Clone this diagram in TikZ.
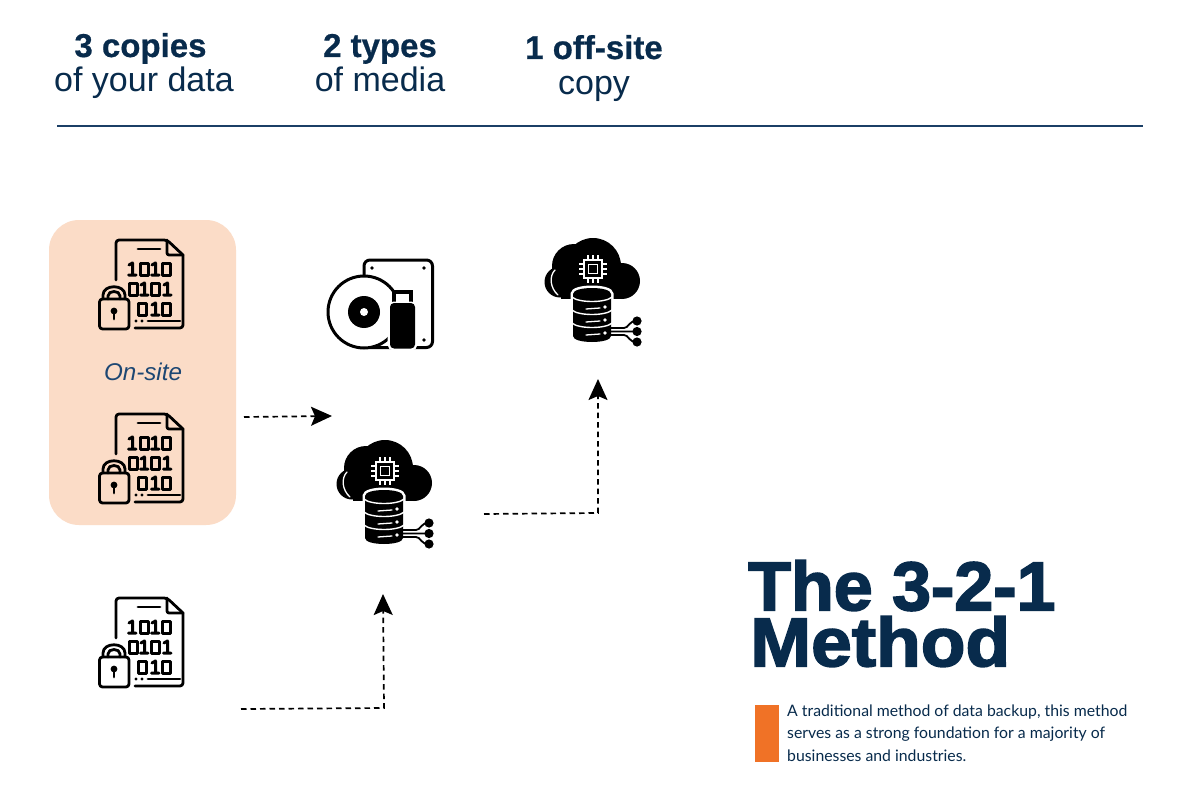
\documentclass[tikz,border=0pt]{standalone}
\usepackage{fontspec}
\setmainfont[BoldFeatures={FakeBold=0.6}]{Liberation Sans}
\newfontfamily\bodyfont{Lato}
\newfontfamily\titlefont[FakeBold=2.4,FakeStretch=1.015]{Liberation Sans Bold}
\newfontfamily\titlefontb[FakeBold=2.4,FakeStretch=1.06]{Liberation Sans Bold}
\usetikzlibrary{arrows.meta}
\definecolor{navy}{HTML}{082B4C}
\definecolor{rulecol}{HTML}{1B3F66}
\definecolor{peach}{HTML}{FBDCC7}
\definecolor{accent}{HTML}{F07226}
\definecolor{sitecol}{HTML}{1D4773}
\newcommand{\bitone}[2]{\draw[bitline] (#1+1,#2+3) -- (#1+4.5,#2+1) -- (#1+4.5,#2+13) (#1+.5,#2+13) -- (#1+8,#2+13);}
\newcommand{\bitzero}[2]{\draw[bitline] (#1+.5,#2+1) rectangle (#1+8.5,#2+13);}
\tikzset{
  x=1pt,y=-1pt,
  bitline/.style={black,line width=3pt,line cap=round,line join=round},
  iconline/.style={black,line width=2.8pt,line cap=round,line join=round},
  head/.style={font=\fontsize{33}{33}\selectfont\bfseries,text=navy,inner sep=0pt,anchor=base},
  sub/.style={font=\fontsize{34}{34}\selectfont,text=navy,inner sep=0pt,anchor=base},
  flow/.style={black,line width=1.7pt,dash pattern=on 5.5pt off 4pt,-{Stealth[length=21pt,width=19pt,inset=4pt]}},
  docicon/.pic={
    \draw[iconline] (116,280) -- (116,244) [rounded corners=3pt] -- (116,240) -- (167,240) [sharp corners] -- (183,255) [rounded corners=3pt] -- (183,328) -- (135,328);
    \draw[iconline] (167,240) [rounded corners=2pt] -- (167,255) -- (183,255);
    \draw[iconline] (138,249) -- (160,249);
    \bitone{128}{262}\bitzero{140}{262}\bitone{151}{262}\bitzero{162}{262}
    \bitzero{129}{282}\bitone{140}{282}\bitzero{151}{282}\bitone{163}{282}
    \bitzero{138}{302}\bitone{151}{302}\bitzero{162}{302}
    \draw[iconline] (148,321) -- (180,321);
    \fill[black] (136,321) circle[radius=1.6] (142,321) circle[radius=1.6];
    \draw[iconline] (103,299) -- (103,295) .. controls (103,284) and (125,284) .. (125,295) -- (125,299);
    \draw[iconline] (108,299) -- (108,296) .. controls (108,290) and (120,290) .. (120,296) -- (120,299);
    \draw[iconline,fill=none,rounded corners=3pt] (99.5,299) rectangle (129,329);
    \fill[black] (114,311) circle[radius=3.4];
    \draw[iconline] (114,312) -- (114,319);
  },
  cloudicon/.pic={
    \fill[black] (352,484) circle[radius=15.5] (366,468) circle[radius=22] (385,468) circle[radius=28] (414,483) circle[radius=18];
    \fill[black] (353,478) rectangle (415,500.5);
    \draw[white,line width=1.3pt,line cap=round] (347,472) .. controls (341,478) and (342,490) .. (350,497);
    % chip
    \draw[white,line width=1.7pt] (376,462) rectangle (394,480);
    \draw[white,line width=1.7pt] (380.5,466.5) rectangle (389.5,475.5);
    \draw[white,line width=1.3pt] (380,462) -- (380,457) (385,462) -- (385,457) (390,462) -- (390,457)
      (380,480) -- (380,485) (385,480) -- (385,485) (390,480) -- (390,485)
      (376,466) -- (371,466) (376,471) -- (371,471) (376,476) -- (371,476)
      (394,466) -- (399,466) (394,471) -- (399,471) (394,476) -- (399,476);
    % database
    \draw[white,line width=5pt,fill=white] (365,496) .. controls (365,488) and (403,488) .. (403,496) -- (403,538) .. controls (403,546) and (365,546) .. (365,538) -- cycle;
    \fill[black] (365,496) .. controls (365,488) and (403,488) .. (403,496) -- (403,538) .. controls (403,546) and (365,546) .. (365,538) -- cycle;
    \draw[white,line width=1.4pt] (364,499) .. controls (370,505) and (398,505) .. (404,499)
      (364,512) .. controls (370,518) and (398,518) .. (404,512)
      (364,525) .. controls (370,531) and (398,531) .. (404,525);
    \draw[white,line width=1.3pt,line cap=round] (378,511) -- (392,510) (378,524) -- (392,523) (378,537) -- (392,536);
    \fill[white] (397,509) circle[radius=1.8] (397,522) circle[radius=1.8] (397,535) circle[radius=1.8];
    % network
    \draw[black,line width=1.8pt] (403,530) -- (416,530) .. controls (421,530) and (420,523) .. (429,523)
      (403,533.5) -- (429,533.5)
      (403,537) -- (416,537) .. controls (421,537) and (420,544) .. (429,544);
    \fill[black] (429,523) circle[radius=4.6] (429,533.5) circle[radius=4.6] (429,544) circle[radius=4.6];
  },
  mediaicon/.pic={
    \draw[black,line width=3pt,rounded corners=6pt] (364,275) -- (364,260) -- (432.5,260) -- (432.5,347.5) -- (370,347.5);
    \fill[black] (372,268) circle[radius=1.8] (424,268) circle[radius=1.8] (424,340) circle[radius=1.8];
    \draw[black,line width=3pt,fill=white] (364,312) circle[radius=36];
    \fill[black] (364,312) circle[radius=16];
    \fill[white] (364,312) circle[radius=4];
    \draw[white,line width=3pt] (393.5,291) rectangle (411.5,303);
    \draw[black,line width=3.2pt,fill=white] (394,292) rectangle (411,304);
    \draw[white,line width=5pt,rounded corners=4pt] (390,304) rectangle (415,348);
    \fill[black,rounded corners=4pt] (390,303) rectangle (415,348.5);
  },
}
\begin{document}
\begin{tikzpicture}
\useasboundingbox (0,0) rectangle (1200,789);
\fill[white] (0,0) rectangle (1200,789);

\node[head] (h1) at (140.5,57) {3 copies};
\node[sub] (s1) at (144,92) {of your data};
\node[head] (h2) at (380,57) {2 types};
\node[sub] (s2) at (380,92) {of media};
\node[head] (h3) at (594,59) {1 off-site};
\node[sub] (s3) at (594,95) {copy};
\coordinate (ruleL) at (57,126);
\coordinate (ruleR) at (1143,126);
\draw[rulecol,line width=2pt] (ruleL) -- (ruleR);

\fill[peach,rounded corners=30pt] (49,220) rectangle (236,525);
\node[inner sep=0pt,text=sitecol,font=\fontsize{24.2}{24.2}\selectfont\itshape] (onsite) at (143,372) {On-site};

\pic (doc1) at (0,0) {docicon};
\pic (doc2) at (0,174) {docicon};
\pic (doc3) at (0,358) {docicon};
\pic (media) at (0,0) {mediaicon};
\pic (cloud1) at (0,0) {cloudicon};
\pic (cloud2) at (208,-202) {cloudicon};

\coordinate (a1s) at (244,417);
\coordinate (a1e) at (332,416);
\draw[flow] (a1s) -- (a1e);
\coordinate (a2s) at (241,709);
\coordinate (a2k) at (384,708);
\coordinate (a2e) at (383,594);
\draw[flow] (a2s) -- (a2k) -- (a2e);
\coordinate (a3s) at (484,514);
\coordinate (a3k) at (598,513);
\coordinate (a3e) at (598,379);
\draw[flow] (a3s) -- (a3k) -- (a3e);

\node[inner sep=0pt,anchor=north west,align=left,text=navy,font=\titlefont\fontsize{69}{56}\selectfont] (t1) at (748,560) {The 3-2-1\\\hspace*{2pt}{\titlefontb Method}};

\fill[accent] (755,705) rectangle (779,762);
\node[inner sep=0pt,anchor=base west,text=navy,font=\bodyfont\fontsize{15.8}{15.8}\selectfont] (b1) at (787,716) {A traditional method of data backup, this method};
\node[inner sep=0pt,anchor=base west,text=navy,font=\bodyfont\fontsize{15.8}{15.8}\selectfont] (b2) at (787,738) {serves as a strong foundation for a majority of};
\node[inner sep=0pt,anchor=base west,text=navy,font=\bodyfont\fontsize{15.8}{15.8}\selectfont] (b3) at (787,761) {businesses and industries.};
\end{tikzpicture}
\end{document}
